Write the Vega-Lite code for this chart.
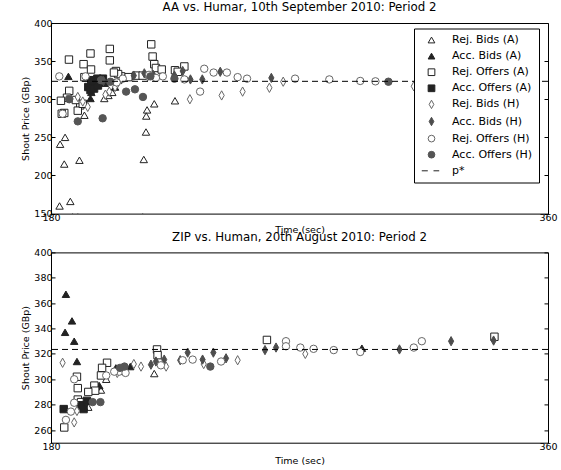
{
  "$schema": "https://vega.github.io/schema/vega-lite/v6.json",
  "padding": {"left": 20, "top": 1, "right": 5, "bottom": 2},
  "bounds": "flush",
  "spacing": 38.4,
  "config": {
    "font": "DejaVu Sans",
    "view": {"stroke": "black", "strokeWidth": 1},
    "axis": {"grid": false, "domain": false, "labelFont": "DejaVu Sans", "labelFontSize": 9.5, "labelColor": "black", "titleFont": "DejaVu Sans", "titleFontSize": 9.5, "titleFontWeight": "normal", "titleColor": "black", "tickColor": "black", "tickSize": -4, "labelPadding": 3, "labelFlush": false},
    "title": {"font": "DejaVu Sans", "fontSize": 11.8, "fontWeight": "normal", "color": "black", "offset": 4},
    "legend": {"labelFont": "DejaVu Sans", "labelColor": "black"}
  },
  "resolve": {"legend": {"shape": "independent", "fill": "independent", "stroke": "independent"}},
  "datasets": {
    "aa": [
      {"series": "Rej. Bids (A)", "time": 183.3, "price": 241}, {"series": "Rej. Bids (A)", "time": 185.1, "price": 250}, {"series": "Rej. Bids (A)", "time": 184.8, "price": 215}, {"series": "Rej. Bids (A)", "time": 190.3, "price": 220}, {"series": "Rej. Bids (A)", "time": 183.1, "price": 160}, {"series": "Rej. Bids (A)", "time": 187, "price": 166}, {"series": "Rej. Bids (A)", "time": 192.1, "price": 279}, {"series": "Rej. Bids (A)", "time": 199.3, "price": 301}, {"series": "Rej. Bids (A)", "time": 200.8, "price": 305}, {"series": "Rej. Bids (A)", "time": 202.2, "price": 309}, {"series": "Rej. Bids (A)", "time": 217.4, "price": 294}, {"series": "Rej. Bids (A)", "time": 214.8, "price": 286}, {"series": "Rej. Bids (A)", "time": 214.5, "price": 278}, {"series": "Rej. Bids (A)", "time": 214.4, "price": 257}, {"series": "Rej. Bids (A)", "time": 213.6, "price": 221}, {"series": "Rej. Bids (A)", "time": 224.9, "price": 298}, {"series": "Rej. Bids (A)", "time": 187.8, "price": 146}, {"series": "Rej. Bids (A)", "time": 189.7, "price": 146}, {"series": "Rej. Bids (A)", "time": 213.2, "price": 146},
      {"series": "Acc. Bids (A)", "time": 186.3, "price": 330}, {"series": "Acc. Bids (A)", "time": 194.3, "price": 301}, {"series": "Acc. Bids (A)", "time": 194.6, "price": 309}, {"series": "Acc. Bids (A)", "time": 199.5, "price": 321}, {"series": "Acc. Bids (A)", "time": 203.2, "price": 316},
      {"series": "Rej. Offers (A)", "time": 186.5, "price": 352}, {"series": "Rej. Offers (A)", "time": 194.3, "price": 360}, {"series": "Rej. Offers (A)", "time": 201.3, "price": 366}, {"series": "Rej. Offers (A)", "time": 201.3, "price": 351}, {"series": "Rej. Offers (A)", "time": 191.8, "price": 346}, {"series": "Rej. Offers (A)", "time": 194.5, "price": 339}, {"series": "Rej. Offers (A)", "time": 216.3, "price": 372}, {"series": "Rej. Offers (A)", "time": 216.8, "price": 356}, {"series": "Rej. Offers (A)", "time": 217.4, "price": 346}, {"series": "Rej. Offers (A)", "time": 218, "price": 341}, {"series": "Rej. Offers (A)", "time": 220.1, "price": 339}, {"series": "Rej. Offers (A)", "time": 228.3, "price": 343}, {"series": "Rej. Offers (A)", "time": 224.9, "price": 338}, {"series": "Rej. Offers (A)", "time": 225.9, "price": 336}, {"series": "Rej. Offers (A)", "time": 210.8, "price": 331}, {"series": "Rej. Offers (A)", "time": 208, "price": 329}, {"series": "Rej. Offers (A)", "time": 205.4, "price": 330}, {"series": "Rej. Offers (A)", "time": 203.5, "price": 337}, {"series": "Rej. Offers (A)", "time": 204.3, "price": 333}, {"series": "Rej. Offers (A)", "time": 186.6, "price": 311}, {"series": "Rej. Offers (A)", "time": 185.8, "price": 302}, {"series": "Rej. Offers (A)", "time": 183.6, "price": 298}, {"series": "Rej. Offers (A)", "time": 184.8, "price": 282}, {"series": "Rej. Offers (A)", "time": 183.9, "price": 281}, {"series": "Rej. Offers (A)", "time": 190.6, "price": 292}, {"series": "Rej. Offers (A)", "time": 189.7, "price": 285}, {"series": "Rej. Offers (A)", "time": 189, "price": 299}, {"series": "Rej. Offers (A)", "time": 191.5, "price": 294}, {"series": "Rej. Offers (A)", "time": 192.1, "price": 329}, {"series": "Rej. Offers (A)", "time": 195.7, "price": 325}, {"series": "Rej. Offers (A)", "time": 213.2, "price": 331}, {"series": "Rej. Offers (A)", "time": 202.8, "price": 335},
      {"series": "Acc. Offers (A)", "time": 193.5, "price": 316}, {"series": "Acc. Offers (A)", "time": 194.3, "price": 312}, {"series": "Acc. Offers (A)", "time": 195, "price": 320}, {"series": "Acc. Offers (A)", "time": 195.6, "price": 314}, {"series": "Acc. Offers (A)", "time": 196.2, "price": 323}, {"series": "Acc. Offers (A)", "time": 197, "price": 318}, {"series": "Acc. Offers (A)", "time": 194.6, "price": 325}, {"series": "Acc. Offers (A)", "time": 196.8, "price": 327}, {"series": "Acc. Offers (A)", "time": 198.8, "price": 327},
      {"series": "Rej. Bids (H)", "time": 193.3, "price": 290}, {"series": "Rej. Bids (H)", "time": 189.7, "price": 303}, {"series": "Rej. Bids (H)", "time": 191.5, "price": 297}, {"series": "Rej. Bids (H)", "time": 203.2, "price": 316}, {"series": "Rej. Bids (H)", "time": 201.1, "price": 310}, {"series": "Rej. Bids (H)", "time": 204.1, "price": 321}, {"series": "Rej. Bids (H)", "time": 215, "price": 330}, {"series": "Rej. Bids (H)", "time": 230.3, "price": 300}, {"series": "Rej. Bids (H)", "time": 241.8, "price": 305}, {"series": "Rej. Bids (H)", "time": 249.4, "price": 310}, {"series": "Rej. Bids (H)", "time": 259.1, "price": 315}, {"series": "Rej. Bids (H)", "time": 264.1, "price": 323}, {"series": "Rej. Bids (H)", "time": 311.4, "price": 317}, {"series": "Rej. Bids (H)", "time": 199.7, "price": 306},
      {"series": "Acc. Bids (H)", "time": 241.3, "price": 336}, {"series": "Acc. Bids (H)", "time": 230.5, "price": 326}, {"series": "Acc. Bids (H)", "time": 234.8, "price": 326}, {"series": "Acc. Bids (H)", "time": 259.8, "price": 328}, {"series": "Acc. Bids (H)", "time": 227.7, "price": 337}, {"series": "Acc. Bids (H)", "time": 213.8, "price": 334}, {"series": "Acc. Bids (H)", "time": 217, "price": 332}, {"series": "Acc. Bids (H)", "time": 224.7, "price": 331}, {"series": "Acc. Bids (H)", "time": 199, "price": 324}, {"series": "Acc. Bids (H)", "time": 205.5, "price": 326}, {"series": "Acc. Bids (H)", "time": 210, "price": 331},
      {"series": "Rej. Offers (H)", "time": 183, "price": 330}, {"series": "Rej. Offers (H)", "time": 235.5, "price": 340}, {"series": "Rej. Offers (H)", "time": 238.9, "price": 335}, {"series": "Rej. Offers (H)", "time": 243.7, "price": 335}, {"series": "Rej. Offers (H)", "time": 247.6, "price": 329}, {"series": "Rej. Offers (H)", "time": 251, "price": 327}, {"series": "Rej. Offers (H)", "time": 234, "price": 310}, {"series": "Rej. Offers (H)", "time": 228.3, "price": 326}, {"series": "Rej. Offers (H)", "time": 268.4, "price": 327}, {"series": "Rej. Offers (H)", "time": 280.8, "price": 326}, {"series": "Rej. Offers (H)", "time": 292, "price": 324}, {"series": "Rej. Offers (H)", "time": 297.5, "price": 323.5}, {"series": "Rej. Offers (H)", "time": 220.5, "price": 330}, {"series": "Rej. Offers (H)", "time": 218, "price": 328}, {"series": "Rej. Offers (H)", "time": 186.6, "price": 301}, {"series": "Rej. Offers (H)", "time": 184.2, "price": 281}, {"series": "Rej. Offers (H)", "time": 192.5, "price": 330}, {"series": "Rej. Offers (H)", "time": 206, "price": 327}, {"series": "Rej. Offers (H)", "time": 203.8, "price": 322}, {"series": "Rej. Offers (H)", "time": 215.5, "price": 332},
      {"series": "Acc. Offers (H)", "time": 189.7, "price": 271}, {"series": "Acc. Offers (H)", "time": 198.7, "price": 275}, {"series": "Acc. Offers (H)", "time": 207.2, "price": 310}, {"series": "Acc. Offers (H)", "time": 210.4, "price": 313}, {"series": "Acc. Offers (H)", "time": 213.3, "price": 303}, {"series": "Acc. Offers (H)", "time": 186.6, "price": 300}, {"series": "Acc. Offers (H)", "time": 224.7, "price": 327}, {"series": "Acc. Offers (H)", "time": 302.2, "price": 323}, {"series": "Acc. Offers (H)", "time": 198.1, "price": 325}, {"series": "Acc. Offers (H)", "time": 201.5, "price": 323}, {"series": "Acc. Offers (H)", "time": 216, "price": 330}
    ],
    "zip": [
      {"series": "Rej. Bids (A)", "time": 217.4, "price": 304.5}, {"series": "Rej. Bids (A)", "time": 193.5, "price": 278}, {"series": "Rej. Bids (A)", "time": 198.1, "price": 291.5}, {"series": "Rej. Bids (A)", "time": 200, "price": 300},
      {"series": "Acc. Bids (A)", "time": 185.4, "price": 367}, {"series": "Acc. Bids (A)", "time": 187.6, "price": 346}, {"series": "Acc. Bids (A)", "time": 185.1, "price": 337}, {"series": "Acc. Bids (A)", "time": 188.4, "price": 330}, {"series": "Acc. Bids (A)", "time": 189.4, "price": 314}, {"series": "Acc. Bids (A)", "time": 208.7, "price": 310}, {"series": "Acc. Bids (A)", "time": 203.5, "price": 309}, {"series": "Acc. Bids (A)", "time": 197.5, "price": 295}, {"series": "Acc. Bids (A)", "time": 292.6, "price": 324.5}, {"series": "Acc. Bids (A)", "time": 192, "price": 278},
      {"series": "Rej. Offers (A)", "time": 184.8, "price": 262}, {"series": "Rej. Offers (A)", "time": 189.4, "price": 302}, {"series": "Rej. Offers (A)", "time": 189.7, "price": 293}, {"series": "Rej. Offers (A)", "time": 189.7, "price": 284}, {"series": "Rej. Offers (A)", "time": 195.7, "price": 295}, {"series": "Rej. Offers (A)", "time": 196, "price": 291}, {"series": "Rej. Offers (A)", "time": 200.3, "price": 313}, {"series": "Rej. Offers (A)", "time": 198.1, "price": 303}, {"series": "Rej. Offers (A)", "time": 190.9, "price": 282}, {"series": "Rej. Offers (A)", "time": 193.5, "price": 290}, {"series": "Rej. Offers (A)", "time": 218.4, "price": 323.5}, {"series": "Rej. Offers (A)", "time": 218.6, "price": 319}, {"series": "Rej. Offers (A)", "time": 258.2, "price": 331}, {"series": "Rej. Offers (A)", "time": 340.6, "price": 333.5}, {"series": "Rej. Offers (A)", "time": 198.5, "price": 309},
      {"series": "Acc. Offers (A)", "time": 184.6, "price": 276.5}, {"series": "Acc. Offers (A)", "time": 191.8, "price": 276.5}, {"series": "Acc. Offers (A)", "time": 190.8, "price": 279.5}, {"series": "Acc. Offers (A)", "time": 193, "price": 283},
      {"series": "Rej. Bids (H)", "time": 184.2, "price": 313}, {"series": "Rej. Bids (H)", "time": 188.4, "price": 266}, {"series": "Rej. Bids (H)", "time": 189.4, "price": 275}, {"series": "Rej. Bids (H)", "time": 212.6, "price": 310}, {"series": "Rej. Bids (H)", "time": 210, "price": 312}, {"series": "Rej. Bids (H)", "time": 221.7, "price": 310}, {"series": "Rej. Bids (H)", "time": 247.6, "price": 315}, {"series": "Rej. Bids (H)", "time": 235.3, "price": 312}, {"series": "Rej. Bids (H)", "time": 272.1, "price": 320}, {"series": "Rej. Bids (H)", "time": 204, "price": 305},
      {"series": "Acc. Bids (H)", "time": 229.5, "price": 321}, {"series": "Acc. Bids (H)", "time": 238.8, "price": 321}, {"series": "Acc. Bids (H)", "time": 234.9, "price": 315.5}, {"series": "Acc. Bids (H)", "time": 243.4, "price": 316.5}, {"series": "Acc. Bids (H)", "time": 226.8, "price": 315}, {"series": "Acc. Bids (H)", "time": 221, "price": 315.5}, {"series": "Acc. Bids (H)", "time": 216.2, "price": 311.5}, {"series": "Acc. Bids (H)", "time": 218, "price": 314}, {"series": "Acc. Bids (H)", "time": 257.5, "price": 323}, {"series": "Acc. Bids (H)", "time": 261.5, "price": 325}, {"series": "Acc. Bids (H)", "time": 306.2, "price": 323.5}, {"series": "Acc. Bids (H)", "time": 324.9, "price": 330}, {"series": "Acc. Bids (H)", "time": 340.3, "price": 330.5},
      {"series": "Rej. Offers (H)", "time": 185.4, "price": 268}, {"series": "Rej. Offers (H)", "time": 187.2, "price": 274.5}, {"series": "Rej. Offers (H)", "time": 188.4, "price": 281.5}, {"series": "Rej. Offers (H)", "time": 188.4, "price": 300}, {"series": "Rej. Offers (H)", "time": 227.7, "price": 315}, {"series": "Rej. Offers (H)", "time": 231.3, "price": 315.5}, {"series": "Rej. Offers (H)", "time": 241.6, "price": 314}, {"series": "Rej. Offers (H)", "time": 219.8, "price": 311}, {"series": "Rej. Offers (H)", "time": 204.7, "price": 306}, {"series": "Rej. Offers (H)", "time": 202.9, "price": 306}, {"series": "Rej. Offers (H)", "time": 265.1, "price": 330}, {"series": "Rej. Offers (H)", "time": 265.1, "price": 326}, {"series": "Rej. Offers (H)", "time": 270.3, "price": 325}, {"series": "Rej. Offers (H)", "time": 275.1, "price": 324}, {"series": "Rej. Offers (H)", "time": 282.4, "price": 323}, {"series": "Rej. Offers (H)", "time": 292, "price": 321.5}, {"series": "Rej. Offers (H)", "time": 311.4, "price": 325}, {"series": "Rej. Offers (H)", "time": 314.3, "price": 330}, {"series": "Rej. Offers (H)", "time": 200, "price": 303}, {"series": "Rej. Offers (H)", "time": 207, "price": 305},
      {"series": "Acc. Offers (H)", "time": 237.7, "price": 310}, {"series": "Acc. Offers (H)", "time": 206.6, "price": 310}, {"series": "Acc. Offers (H)", "time": 197.9, "price": 282}, {"series": "Acc. Offers (H)", "time": 195.1, "price": 282}, {"series": "Acc. Offers (H)", "time": 205, "price": 309}
    ]
  },
  "vconcat": [
    {
      "width": 497, "height": 190.6,
      "title": "AA vs. Humar, 10th September 2010: Period 2",
      "resolve": {"axis": {"y": "independent"}},
      "layer": [
        {
          "data": {"name": "aa"},
          "mark": {"type": "point", "filled": true, "size": 55, "strokeWidth": 1, "opacity": 1, "clip": true},
          "encoding": {
            "x": {"field": "time", "type": "quantitative", "scale": {"domain": [180, 360], "nice": false, "zero": false}, "axis": {"values": [180, 360], "title": "Time (sec)", "titlePadding": 2}},
            "y": {"field": "price", "type": "quantitative", "scale": {"domain": [150, 400], "nice": false, "zero": false}, "axis": {"values": [150, 200, 250, 300, 350, 400], "title": "Shout Price (GBp)", "titlePadding": 3}},
            "fill": {"field": "series", "type": "nominal",
              "scale": {"domain": ["Rej. Bids (A)", "Acc. Bids (A)", "Rej. Offers (A)", "Acc. Offers (A)", "Rej. Bids (H)", "Acc. Bids (H)", "Rej. Offers (H)", "Acc. Offers (H)", "p*"],
                        "range": ["white", "#222222", "white", "#222222", "white", "#4d4d4d", "white", "#555555", "transparent"]},
              "legend": {"title": null, "orient": "none", "legendX": 363, "legendY": 5.5, "padding": 6, "strokeColor": "black", "fillColor": "white", "labelFontSize": 11, "symbolSize": 45, "rowPadding": 4.1, "labelOffset": 15, "symbolOffset": 6, "symbolStrokeWidth": 1}},
            "stroke": {"field": "series", "type": "nominal",
              "scale": {"domain": ["Rej. Bids (A)", "Acc. Bids (A)", "Rej. Offers (A)", "Acc. Offers (A)", "Rej. Bids (H)", "Acc. Bids (H)", "Rej. Offers (H)", "Acc. Offers (H)", "p*"],
                        "range": ["#222222", "#222222", "#222222", "#222222", "#666666", "#4d4d4d", "#666666", "#555555", "#222222"]},
              "legend": {"title": null}},
            "shape": {"field": "series", "type": "nominal",
              "scale": {"domain": ["Rej. Bids (A)", "Acc. Bids (A)", "Rej. Offers (A)", "Acc. Offers (A)", "Rej. Bids (H)", "Acc. Bids (H)", "Rej. Offers (H)", "Acc. Offers (H)", "p*"],
                        "range": ["triangle-up", "triangle-up", "square", "square", "M0,-1.25L0.7,0L0,1.25L-0.7,0Z", "M0,-1.25L0.7,0L0,1.25L-0.7,0Z", "circle", "circle", "M-2.9,0H-1.1M0.6,0H2.3"]},
              "legend": {"title": null}}
          }
        },
        {
          "data": {"values": [{"pstar": 323.5}]},
          "mark": {"type": "rule", "color": "black", "strokeWidth": 1, "strokeDash": [6, 4]},
          "encoding": {
            "y": {"field": "pstar", "type": "quantitative", "axis": {"orient": "right", "values": [150, 200, 250, 300, 350, 400], "labels": false, "title": null}}
          }
        }
      ]
    },
    {
      "width": 497, "height": 190.3,
      "title": "ZIP vs. Human, 20th August 2010: Period 2",
      "resolve": {"axis": {"y": "independent"}},
      "layer": [
        {
          "data": {"name": "zip"},
          "mark": {"type": "point", "filled": true, "size": 55, "strokeWidth": 1, "opacity": 1, "clip": true},
          "encoding": {
            "x": {"field": "time", "type": "quantitative", "scale": {"domain": [180, 360], "nice": false, "zero": false}, "axis": {"values": [180, 360], "title": "Time (sec)", "titlePadding": 4}},
            "y": {"field": "price", "type": "quantitative", "scale": {"domain": [250, 400], "nice": false, "zero": false}, "axis": {"values": [260, 280, 300, 320, 340, 360, 380, 400], "title": "Shout Price (GBp)", "titlePadding": 3}},
            "fill": {"field": "series", "type": "nominal",
              "scale": {"domain": ["Rej. Bids (A)", "Acc. Bids (A)", "Rej. Offers (A)", "Acc. Offers (A)", "Rej. Bids (H)", "Acc. Bids (H)", "Rej. Offers (H)", "Acc. Offers (H)", "p*"],
                        "range": ["white", "#222222", "white", "#222222", "white", "#4d4d4d", "white", "#555555", "transparent"]},
              "legend": null},
            "stroke": {"field": "series", "type": "nominal",
              "scale": {"domain": ["Rej. Bids (A)", "Acc. Bids (A)", "Rej. Offers (A)", "Acc. Offers (A)", "Rej. Bids (H)", "Acc. Bids (H)", "Rej. Offers (H)", "Acc. Offers (H)", "p*"],
                        "range": ["#222222", "#222222", "#222222", "#222222", "#666666", "#4d4d4d", "#666666", "#555555", "#222222"]},
              "legend": null},
            "shape": {"field": "series", "type": "nominal",
              "scale": {"domain": ["Rej. Bids (A)", "Acc. Bids (A)", "Rej. Offers (A)", "Acc. Offers (A)", "Rej. Bids (H)", "Acc. Bids (H)", "Rej. Offers (H)", "Acc. Offers (H)", "p*"],
                        "range": ["triangle-up", "triangle-up", "square", "square", "M0,-1.25L0.7,0L0,1.25L-0.7,0Z", "M0,-1.25L0.7,0L0,1.25L-0.7,0Z", "circle", "circle", "M-2.9,0H-1.1M0.6,0H2.3"]},
              "legend": null}
          }
        },
        {
          "data": {"values": [{"pstar": 323.5}]},
          "mark": {"type": "rule", "color": "black", "strokeWidth": 1, "strokeDash": [6, 4]},
          "encoding": {
            "y": {"field": "pstar", "type": "quantitative", "axis": {"orient": "right", "values": [260, 280, 300, 320, 340, 360, 380, 400], "labels": false, "title": null}}
          }
        }
      ]
    }
  ]
}
